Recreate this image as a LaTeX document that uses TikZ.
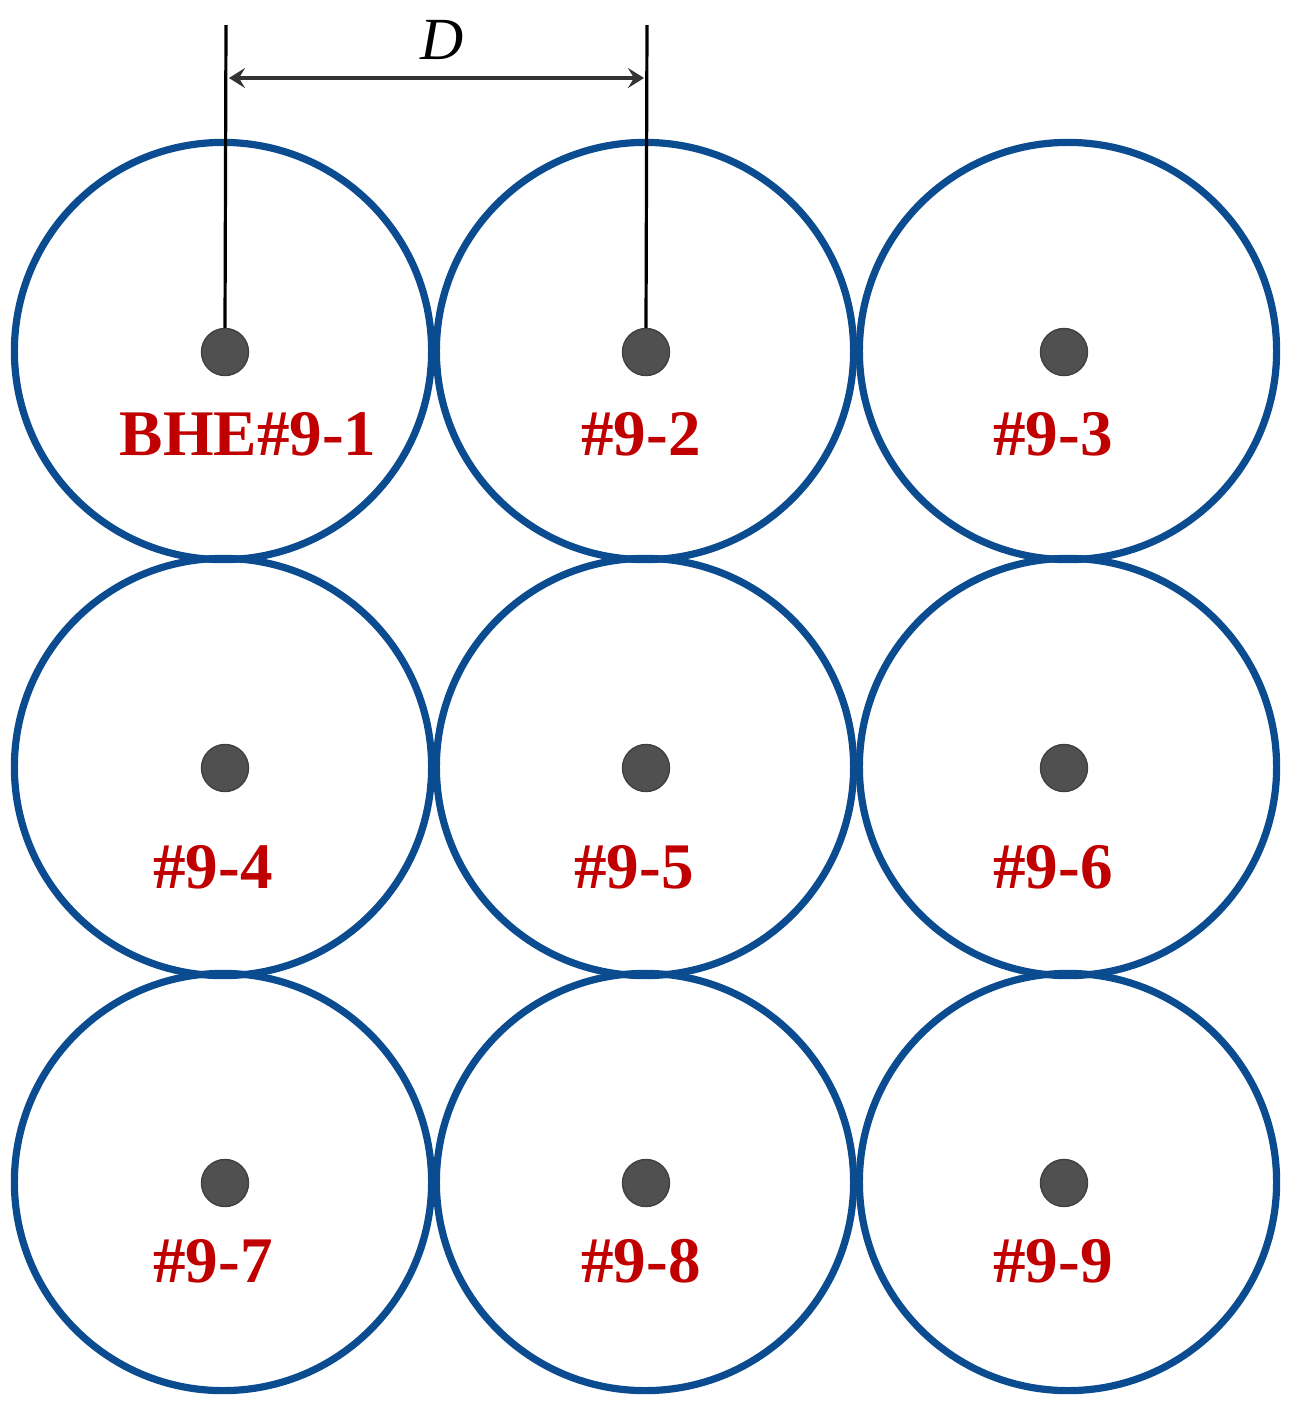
\documentclass[tikz,border=0pt]{standalone}
\usepackage{fontspec}
\setmainfont{Liberation Serif}
\usetikzlibrary{arrows.meta}
\definecolor{ringblue}{RGB}{11,76,145}
\definecolor{labred}{RGB}{192,0,0}
\definecolor{dotgray}{RGB}{80,80,80}
\begin{document}
\begin{tikzpicture}[x=0.01cm,y=-0.01cm,
  ring/.style={circle,draw=ringblue,line width=0.072cm,minimum size=4.17cm,inner sep=0pt},
  bhe/.style={circle,fill=dotgray,draw=black!75,line width=0.4pt,minimum size=0.47cm,inner sep=0pt},
  lab/.style={text=labred,font=\fontsize{18.5pt}{20pt}\selectfont\bfseries,anchor=base,inner sep=0pt},
  dim/.style={black,line width=0.032cm},
  dimarrow/.style={draw=black!80,line width=0.04cm,{Stealth[length=0.16cm,width=0.2cm,inset=0.06cm]}-{Stealth[length=0.16cm,width=0.2cm,inset=0.06cm]}}]
\useasboundingbox (0,0) rectangle (1296,1414);
% rings
\node[ring] (c1) at (223,351) {};
\node[ring] (c2) at (645,351) {};
\node[ring] (c3) at (1068,351) {};
\node[ring] (c4) at (223,767) {};
\node[ring] (c5) at (645,767) {};
\node[ring] (c6) at (1068,767) {};
\node[ring] (c7) at (223,1182) {};
\node[ring] (c8) at (645,1182) {};
\node[ring] (c9) at (1068,1182) {};
% boreholes
\node[bhe] (d1) at (225,352) {};
\node[bhe] (d2) at (646,352) {};
\node[bhe] (d3) at (1064,352) {};
\node[bhe] (d4) at (225,768) {};
\node[bhe] (d5) at (646,768) {};
\node[bhe] (d6) at (1064,768) {};
\node[bhe] (d7) at (225,1183) {};
\node[bhe] (d8) at (646,1183) {};
\node[bhe] (d9) at (1064,1183) {};
% labels
\node[lab] (l1) at (248,455) {BHE\#9-1};
\node[lab] (l2) at (641,455) {\#9-2};
\node[lab] (l3) at (1053,455) {\#9-3};
\node[lab] (l4) at (213,888) {\#9-4};
\node[lab] (l5) at (634,888) {\#9-5};
\node[lab] (l6) at (1053,888) {\#9-6};
\node[lab] (l7) at (213,1282) {\#9-7};
\node[lab] (l8) at (641,1282) {\#9-8};
\node[lab] (l9) at (1053,1282) {\#9-9};
% dimension
\coordinate (t1) at (226,25);
\coordinate (t2) at (647,25);
\coordinate (a1) at (229,78);
\coordinate (a2) at (644,78);
\draw[dim] (t1) -- (d1.north);
\draw[dim] (t2) -- (d2.north);
\draw[dimarrow] (a1) -- (a2);
\node[font=\fontsize{17pt}{20pt}\selectfont\itshape] (D) at (442,40) {D};
\end{tikzpicture}
\end{document}
